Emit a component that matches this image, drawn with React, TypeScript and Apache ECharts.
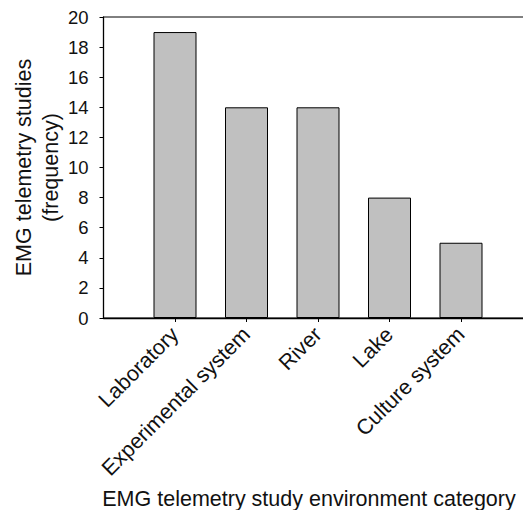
import React, { useEffect, useRef } from 'react';
import * as echarts from 'echarts';

const categories: string[] = ['', 'Laboratory', 'Experimental system', 'River', 'Lake', 'Culture system', ''];
const frequencies: (number | null)[] = [null, 19, 14, 14, 8, 5, null];
const yMin = 0;
const yMax = 20;
const yStep = 2;
const xTitle = 'EMG telemetry study environment category';
const yTitleLine1 = 'EMG telemetry studies';
const yTitleLine2 = '(frequency)';

const FONT = '"Liberation Sans", Arial, Helvetica, sans-serif';

export default function App() {
  const ref = useRef<HTMLDivElement>(null);
  useEffect(() => {
    if (!ref.current) return;
    const chart = echarts.init(ref.current, undefined, { renderer: 'svg' });
    chart.setOption({
      animation: false,
      backgroundColor: '#ffffff',
      textStyle: { fontFamily: FONT },
      grid: {
        left: 103.5,
        top: 17,
        height: 301,
        width: 429,
        show: true,
        borderColor: '#000',
        borderWidth: 1,
        containLabel: false,
        outerBoundsMode: 'none',
      },
      xAxis: {
        type: 'category',
        data: categories,
        boundaryGap: false,
        axisLine: { show: true, lineStyle: { color: '#000', width: 1.3 } },
        axisTick: {
          show: true,
          length: 4,
          inside: false,
          lineStyle: { color: '#000', width: 1 },
          interval: (index: number, value: string) => value !== '',
        },
        axisLabel: {
          interval: 0,
          rotate: 45,
          margin: 13,
          fontSize: 21.5,
          color: '#111',
          fontFamily: FONT,
        },
        splitLine: { show: false },
      },
      yAxis: {
        type: 'value',
        min: yMin,
        max: yMax,
        interval: yStep,
        axisLine: { show: true, lineStyle: { color: '#000', width: 1.3 } },
        axisTick: { show: true, length: 4, inside: false, lineStyle: { color: '#000', width: 1 } },
        axisLabel: { margin: 15, fontSize: 18.5, color: '#111', fontFamily: FONT },
        splitLine: { show: false },
      },
      series: [
        {
          type: 'bar',
          data: frequencies,
          barWidth: 43,
          itemStyle: { color: '#c0c0c0', borderColor: '#000', borderWidth: 1 },
        },
      ],
      graphic: [
        {
          type: 'text',
          x: 309,
          y: 499,
          style: {
            text: xTitle,
            fontSize: 21.5,
            fontFamily: FONT,
            fill: '#111',
            align: 'center',
            verticalAlign: 'middle',
          },
        },
        {
          type: 'text',
          x: 24,
          y: 167.5,
          rotation: Math.PI / 2,
          style: {
            text: yTitleLine1,
            fontSize: 21.5,
            fontFamily: FONT,
            fill: '#111',
            align: 'center',
            verticalAlign: 'middle',
          },
        },
        {
          type: 'text',
          x: 51,
          y: 167.5,
          rotation: Math.PI / 2,
          style: {
            text: yTitleLine2,
            fontSize: 21.5,
            fontFamily: FONT,
            fill: '#111',
            align: 'center',
            verticalAlign: 'middle',
          },
        },
      ],
    });
    return () => chart.dispose();
  }, []);
  return (
    <div
      ref={ref}
      style={{ position: 'fixed', left: 0, top: 0, width: 523, height: 510 }}
    />
  );
}
